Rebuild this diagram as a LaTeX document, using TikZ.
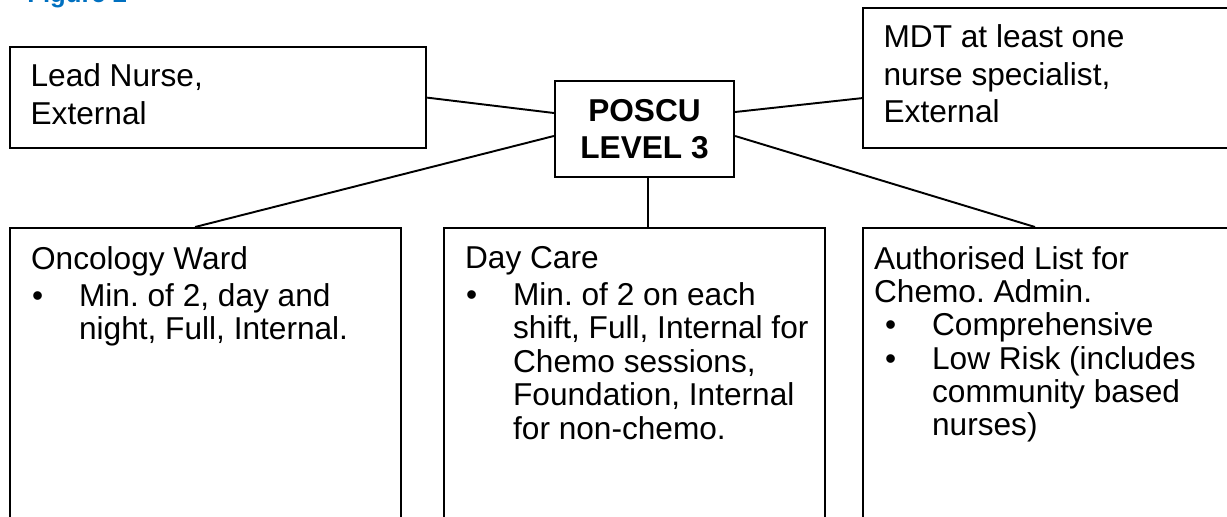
\documentclass[tikz,border=0pt]{standalone}
\usepackage{fontspec}
\setmainfont{Liberation Sans}
\usetikzlibrary{positioning}
\definecolor{figblue}{RGB}{0,112,192}
\frenchspacing

\newcommand{\boxbody}[3]{\parbox[t][#1][t]{#2}{\raggedright #3}}
\newcommand{\bul}{\par\hangindent=1.16cm\hangafter=1\noindent\makebox[1.16cm][l]{\hspace{0.22cm}\textbullet}}

\begin{document}
\begin{tikzpicture}[x=0.02cm, y=-0.02cm,
    staffbox/.style={draw, line width=1.3pt, anchor=north west, inner xsep=0.41cm, inner ysep=0.32cm, font=\fontsize{18}{21.6}\selectfont},
    unitbox/.style={draw, line width=1.3pt, anchor=north west, inner xsep=0.22cm, inner ysep=0.36cm, font=\fontsize{18}{19}\selectfont},
    link/.style={line width=1.1pt}]
  \clip (0,0) rectangle (1227,517);
  \fill[white] (0,0) rectangle (1227,517);

  \node[anchor=base west, inner sep=0pt, font=\fontsize{14.6}{17}\selectfont\bfseries, text=figblue] (fig) at (27,3) {Figure 2};

  \node[staffbox] (lead) at (9,46) {\boxbody{1.38cm}{7.5cm}{Lead Nurse,\\ External}};
  \node[staffbox] (mdt) at (862,7) {\boxbody{2.16cm}{6.74cm}{MDT at least one\\ nurse specialist,\\ External}};
  \node[draw, line width=1.3pt, align=center, minimum width=3.58cm, minimum height=1.92cm,
        font=\fontsize{18}{21}\selectfont\bfseries] (poscu) at (644.5,129) {POSCU\\ LEVEL 3};

  \node[unitbox] (ward) at (9,227) {\boxbody{5.68cm}{7.38cm}{\hspace*{0.2cm}Oncology Ward\par\vspace{0.08cm}%
      \bul Min. of 2, day and\newline night, Full, Internal.}};
  \node[unitbox] (daycare) at (443,227) {\boxbody{5.68cm}{7.18cm}{\hspace*{0.2cm}Day Care\par\vspace{0.08cm}%
      \bul Min. of 2 on each\newline shift, Full, Internal for\newline Chemo sessions,\newline Foundation, Internal\newline for non-chemo.}};
  \node[unitbox] (chemo) at (862,227) {\boxbody{5.68cm}{7.32cm}{Authorised List for\\ Chemo. Admin.%
      \bul Comprehensive%
      \bul Low Risk (includes\newline community based\newline nurses)}};

  \draw[link] (lead.east) -- ([yshift=0.32cm]poscu.west);
  \draw[link] ([yshift=-0.14cm]poscu.west) -- ([xshift=-0.21cm]ward.north);
  \draw[link] ([yshift=0.34cm]poscu.east) -- ([yshift=-0.4cm]mdt.west);
  \draw[link] ([yshift=-0.14cm]poscu.east) -- ([xshift=3.46cm]chemo.north west);
  \draw[link] ([xshift=0.07cm]poscu.south) -- ([xshift=0.07cm]poscu.south |- daycare.north);
\end{tikzpicture}
\end{document}
